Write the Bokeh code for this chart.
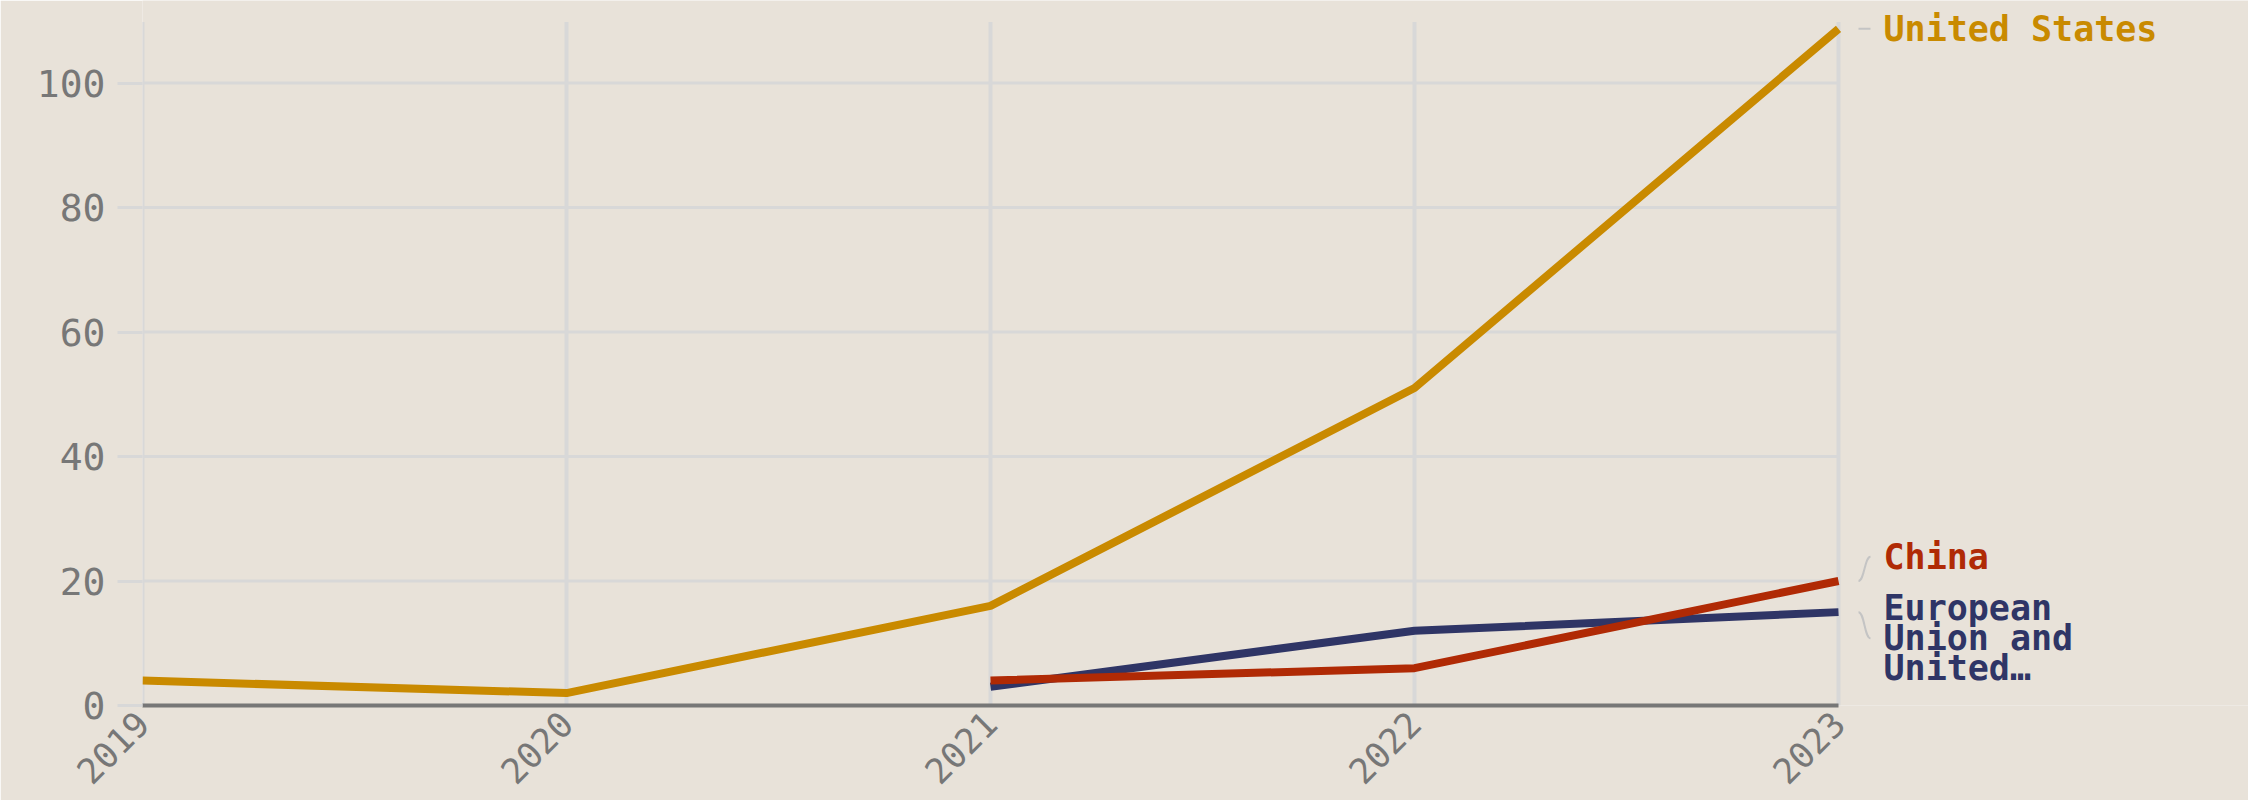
from bokeh.plotting import figure
from bokeh.models import FixedTicker, Range1d
from bokeh.core.properties import value
from bokeh.embed import file_html
from bokeh.resources import INLINE

# ---- data ----
us_years = [2019, 2020, 2021, 2022, 2023]
us_values = [4, 2, 16, 51, 108.7]
cn_years = [2021, 2022, 2023]
cn_values = [4, 6, 20]
eu_years = [2021, 2022, 2023]
eu_values = [3, 12, 15]

series_names = ["United States", "China", "European\nUnion and\nUnited\u2026"]
series_colors = ["#c98a00", "#b02a05", "#2f3566"]
label_y = [108.7, 23.9, 10.8]          # dodged label positions (value units)
line_end = [us_values[-1], cn_values[-1], eu_values[-1]]

x_ticks = [2019, 2020, 2021, 2022, 2023]
y_ticks = [0, 20, 40, 60, 80, 100]

# ---- styles ----
BG = "#e8e2d9"
GRID = "#d8d8d8"
AXIS = "#777777"
FONT = "DejaVu Sans Mono"

W, H = 2248, 800
LEFT, BOTTOM = 142, 95
frame_w = W - LEFT
frame_h = H - BOTTOM
px_per_year = 424.0
px_per_unit = 6.225
x_end = 2019 + frame_w / px_per_year
y_end = frame_h / px_per_unit

p = figure(width=W, height=H, output_backend="svg", toolbar_location=None,
           x_range=Range1d(2019, x_end), y_range=Range1d(0, y_end),
           min_border_left=LEFT, min_border_right=0, min_border_top=0,
           min_border_bottom=BOTTOM)
p.background_fill_color = BG
p.border_fill_color = BG
p.outline_line_color = None
p.xgrid.visible = False
p.ygrid.visible = False

# manual grid confined to the data area
p.segment(x0=[x_ticks[0]] * len(y_ticks), x1=[x_ticks[-1]] * len(y_ticks),
          y0=y_ticks, y1=y_ticks, line_color=GRID, line_width=3)
p.segment(x0=x_ticks, x1=x_ticks, y0=[0] * len(x_ticks),
          y1=[109.8] * len(x_ticks), line_color=GRID, line_width=4)

# axes
p.xaxis.ticker = FixedTicker(ticks=x_ticks)
p.xaxis.bounds = (x_ticks[0], x_ticks[-1])
p.xaxis.axis_line_color = AXIS
p.xaxis.axis_line_width = 4
p.xaxis.major_tick_line_color = None
p.xaxis.minor_tick_line_color = None
p.xaxis.major_label_orientation = 0.785
p.xaxis.major_label_text_font = FONT
p.xaxis.major_label_text_font_size = "35px"
p.xaxis.major_label_text_color = AXIS
p.xaxis.major_label_standoff = 6

p.yaxis.ticker = FixedTicker(ticks=y_ticks)
p.yaxis.axis_line_color = None
p.yaxis.major_tick_line_color = GRID
p.yaxis.major_tick_line_width = 3
p.yaxis.major_tick_out = 25
p.yaxis.major_tick_in = 0
p.yaxis.minor_tick_line_color = None
p.yaxis.major_label_text_font = FONT
p.yaxis.major_label_text_font_size = "38px"
p.yaxis.major_label_text_color = AXIS
p.yaxis.major_label_standoff = 12

# series lines
p.line(us_years, us_values, line_color=series_colors[0], line_width=8)
p.line(eu_years, eu_values, line_color=series_colors[2], line_width=8)
p.line(cn_years, cn_values, line_color=series_colors[1], line_width=8)

# leaders from line ends to labels
lx0 = 2023 + 20 / px_per_year
lx1 = 2023 + 32 / px_per_year
lxm = (lx0 + lx1) / 2
p.bezier(x0=[lx0] * 3, y0=line_end, x1=[lx1] * 3, y1=label_y,
         cx0=[lxm] * 3, cy0=line_end, cx1=[lxm] * 3, cy1=label_y,
         line_color="#c4c4c4", line_width=2)

# labels
p.text(x=[2023] * 3, y=label_y, text=series_names, text_color=series_colors,
       x_offset=45, text_font=value(FONT), text_font_size="35px",
       text_font_style="bold", text_baseline="middle", text_align="left",
       text_line_height=0.75)

html = file_html(p, INLINE)
html = html.replace("<body>", '<body style="background:%s;">' % BG, 1)
open("out.html", "w").write(html)
